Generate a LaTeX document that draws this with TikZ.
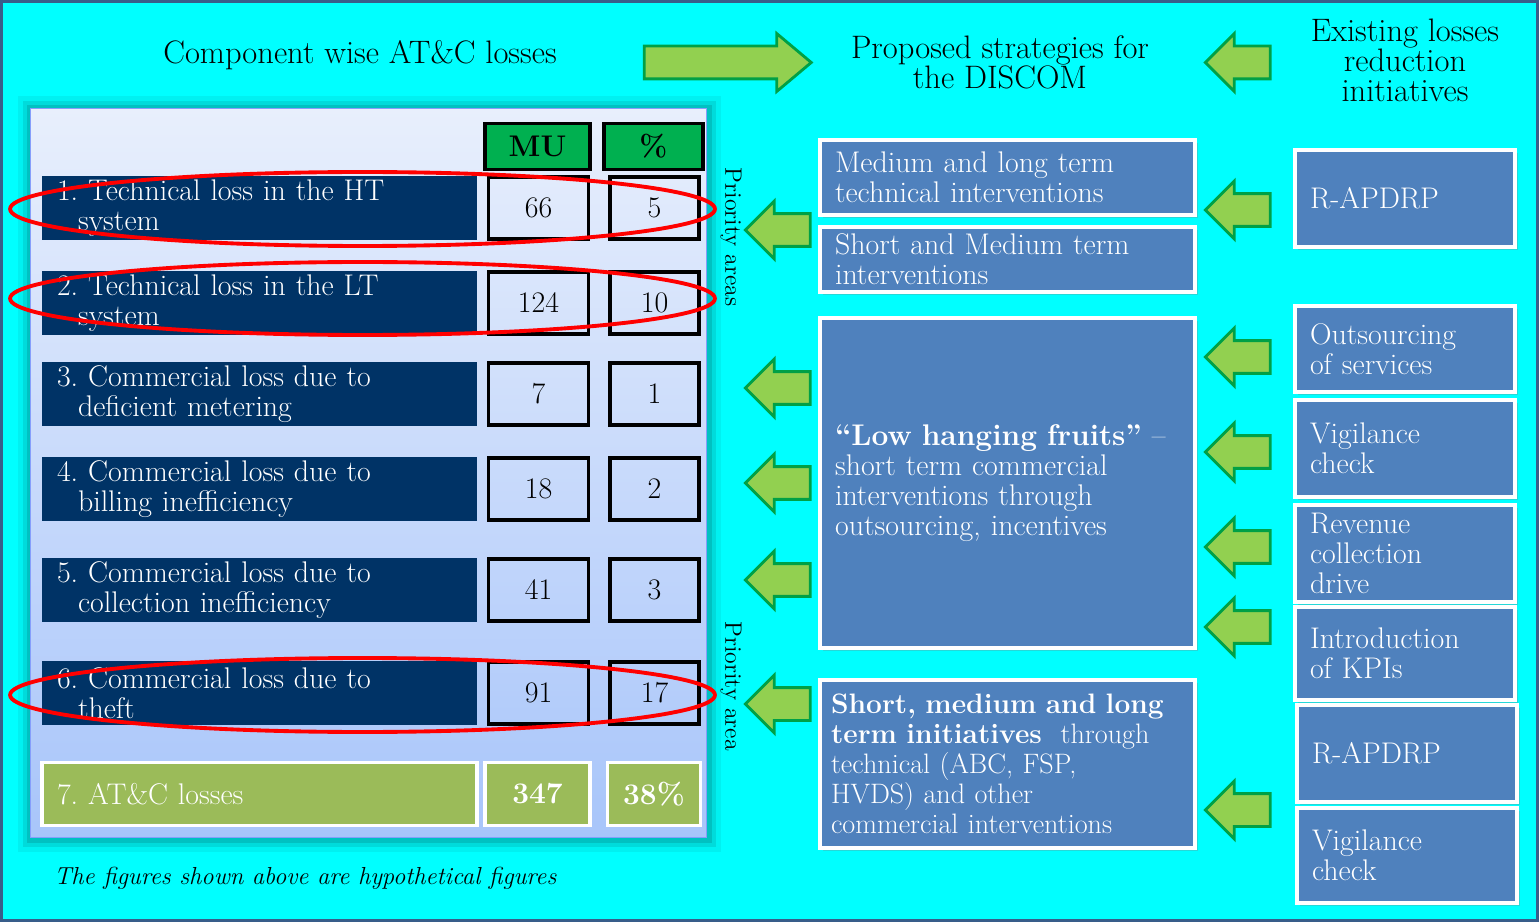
\documentclass[tikz,border=0pt]{standalone}
\usetikzlibrary{shapes.arrows,shadows}
\definecolor{bgcyan}{RGB}{0,255,255}
\definecolor{framecol}{RGB}{56,93,138}
\definecolor{navy}{RGB}{0,51,102}
\definecolor{hdrgreen}{RGB}{0,176,80}
\definecolor{totgreen}{RGB}{155,187,89}
\definecolor{stratblue}{RGB}{79,129,189}
\definecolor{arrowfill}{RGB}{146,208,80}
\definecolor{arrowline}{RGB}{0,160,70}
\definecolor{paneltop}{RGB}{232,239,252}
\definecolor{panelbot}{RGB}{168,197,250}
\newcommand\txtsize{\fontsize{17}{17.1}\selectfont}
\tikzset{
  panel/.style={draw=panelbot!80!blue, line width=0.6pt, top color=paneltop, bottom color=panelbot,
    minimum width=13.54cm, minimum height=14.6cm, inner sep=0pt},
  lossrow/.style={fill=navy, text=white, minimum width=8.7cm, minimum height=1.28cm,
    inner xsep=0.3cm, inner ysep=0pt, text width=8.1cm, align=left},
  mucell/.style={draw=black, line width=2pt, minimum width=2.0cm, minimum height=1.24cm, inner sep=0pt},
  pccell/.style={mucell, minimum width=1.78cm},
  hdrcell/.style={mucell, fill=hdrgreen, minimum height=0.92cm, font=\txtsize\bfseries},
  totcell/.style={fill=totgreen, draw=white, line width=2pt, text=white, minimum height=1.26cm, inner sep=0pt},
  redring/.style={draw=red, line width=2.2pt},
  garrow/.style={single arrow, draw=arrowline, fill=arrowfill, line width=1.6pt, inner xsep=0pt,
    inner ysep=0.3cm, single arrow head extend=0.25cm, single arrow tip angle=90},
  larrow/.style={garrow, shape border rotate=180, minimum height=1.3cm},
  strat/.style={fill=stratblue, draw=white, line width=2.2pt, text=white, minimum width=7.5cm,
    inner xsep=0.3cm, inner ysep=0pt, text width=6.9cm, align=left,
    drop shadow={shadow xshift=1.5pt, shadow yshift=-1.5pt, opacity=0.3}},
  exist/.style={strat, minimum width=4.4cm, text width=3.8cm},
  heading/.style={align=center, font=\fontsize{18.5}{17.1}\selectfont},
  prio/.style={font=\fontsize{13.5}{15}\selectfont, rotate=-90},
}
\begin{document}
\begin{tikzpicture}[x=0.02cm, y=-0.02cm, font=\txtsize]
\useasboundingbox (0,0) rectangle (1539,922);
\draw[line width=2pt, draw=framecol, fill=bgcyan] (1.5,1.5) rectangle (1537.5,920.5);

\fill[teal!70!black, opacity=.08] (18,96) rectangle (721,852);
\fill[teal!70!black, opacity=.14] (23,101) rectangle (716,847);
\fill[teal!70!black, opacity=.2] (27,105) rectangle (712,843);
\node[panel] (panel) at (368.5,473) {};

\node[heading] (hdrloss) at (360,55) {Component wise AT\&C losses};
\node[heading] (hdrprop) at (1000,62) {Proposed strategies for\\the DISCOM};
\node[heading] (hdrexist) at (1405,60) {Existing losses\\reduction\\initiatives};
\node[garrow, minimum height=3.34cm, single arrow tip angle=80] (toprop) at (718,62.5) {};
\node[larrow] (fromexist) at (1246,62.5) {};

\node[hdrcell, minimum width=2.1cm] (hdrmu) at (537.5,146.5) {MU};
\node[hdrcell, minimum width=1.98cm] (hdrpc) at (653.5,146.5) {\%};

\foreach \i/\y/\txt/\mu/\pc in {
  1/208/{1.\ Technical loss in the HT\\\hspace*{0.42cm}system}/66/5,
  2/303/{2.\ Technical loss in the LT\\\hspace*{0.42cm}system}/124/10,
  3/394/{3.\ Commercial loss due to\\\hspace*{0.42cm}deficient metering}/7/1,
  4/489/{4.\ Commercial loss due to\\\hspace*{0.42cm}billing inefficiency}/18/2,
  5/590/{5.\ Commercial loss due to\\\hspace*{0.42cm}collection inefficiency}/41/3,
  6/693/{6.\ Commercial loss due to\\\hspace*{0.42cm}theft}/91/17}{
  \node[lossrow] (loss\i) at (259.5,\y) {\txt};
  \node[mucell] (mu\i) at (538.5,\y) {\mu};
  \node[pccell] (pc\i) at (654.5,\y) {\pc};
}
\node[totcell, minimum width=8.7cm, inner xsep=0.3cm, text width=8.1cm, align=left] (loss7) at (259.5,794) {7.\ AT\&C losses};
\node[totcell, minimum width=2.1cm] (mu7) at (537.5,794) {\textbf{347}};
\node[totcell, minimum width=1.86cm] (pc7) at (654,794) {\textbf{38\%}};

\draw[redring] (362.5,209) ellipse [x radius=7.05cm, y radius=0.74cm];
\draw[redring] (362.5,298.5) ellipse [x radius=7.05cm, y radius=0.73cm];
\draw[redring] (362.5,695) ellipse [x radius=7.05cm, y radius=0.74cm];

\node[prio] (prio1) at (731,237) {Priority areas};
\node[prio] (prio2) at (731,686) {Priority area};

\node[strat, minimum height=1.5cm] (tech) at (1007.5,177.5) {Medium and long term\\technical interventions};
\node[strat, minimum height=1.3cm] (short) at (1007.5,259.5) {Short and Medium term\\interventions};
\node[strat, minimum height=6.6cm] (fruits) at (1007.5,483) {\textbf{``Low hanging fruits''} --\\short term commercial\\interventions through\\outsourcing, incentives};
\node[strat, minimum height=3.36cm, inner xsep=0.22cm, text width=7.06cm, font=\fontsize{16}{17.1}\selectfont] (longterm) at (1007.5,764) {\textbf{Short, medium and long}\\\textbf{term initiatives}~ through\\technical (ABC, FSP,\\HVDS) and other\\commercial interventions};

\foreach \n/\y in {p1/230, p2/388, p3/483, p4/580, p5/704}
  \node[larrow] (\n) at (786,\y) {};
\foreach \n/\y in {e1/210, e2/357, e3/452, e4/547, e5/627, e6/810}
  \node[larrow] (\n) at (1246,\y) {};

\node[exist, minimum height=1.94cm] (rapdrp) at (1405,198.5) {R-APDRP};
\node[exist, minimum height=1.72cm] (outsrc) at (1405,349) {Outsourcing\\of services};
\node[exist, minimum height=1.94cm] (vigil) at (1405,448.5) {Vigilance\\check};
\node[exist, minimum height=1.94cm] (revenue) at (1405,553.5) {Revenue\\collection\\drive};
\node[exist, minimum height=1.86cm] (kpis) at (1405,653.5) {Introduction\\of KPIs};
\node[exist, minimum height=1.94cm] (rapdrp2) at (1407,753.5) {R-APDRP};
\node[exist, minimum height=1.9cm] (vigil2) at (1407,855.5) {Vigilance\\check};

\node[anchor=west, font=\fontsize{14}{16}\selectfont\itshape] (note) at (48,878) {The figures shown above are hypothetical figures};
\end{tikzpicture}
\end{document}
